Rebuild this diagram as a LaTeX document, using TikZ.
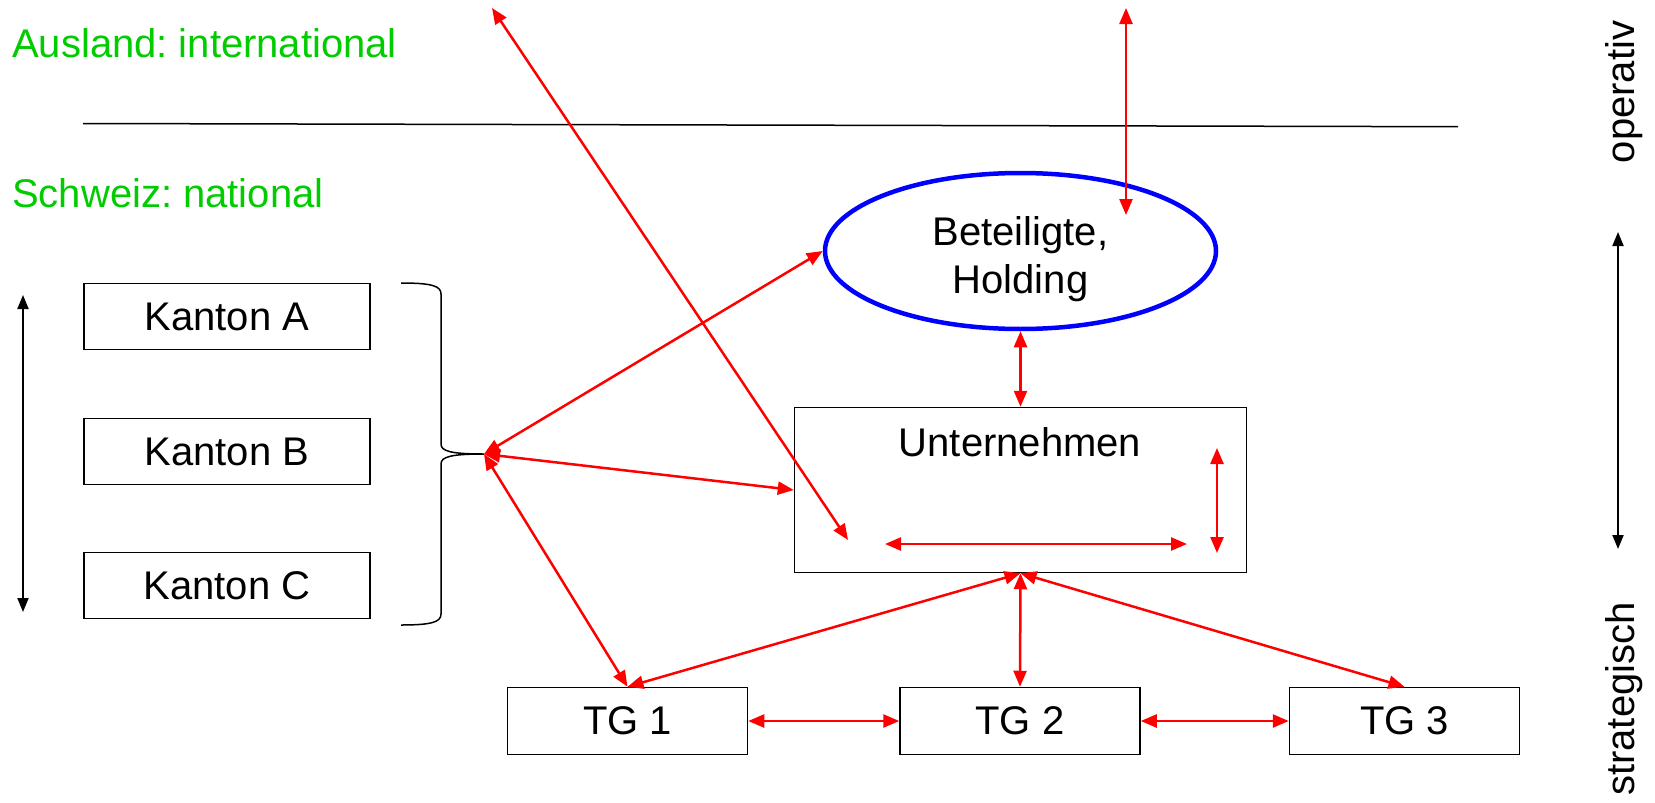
\documentclass[tikz,border=0pt]{standalone}
\usepackage{fontspec}
\setmainfont{Liberation Sans}
\usetikzlibrary{shapes.geometric}
\usetikzlibrary{arrows.meta}
\frenchspacing

\begin{document}
\begin{tikzpicture}[x=1pt, y=-1pt,
  box/.style={draw, line width = 1.5pt, inner sep=0pt, font=\fontsize{40}{48}\selectfont},
  txt/.style={inner sep=0pt, font=\fontsize{40}{48}\selectfont},
  redarr/.style={line width = 2.5pt, color=red, {Triangle[length=16pt,width=13pt]}-{Triangle[length=16pt,width=13pt]}},
  blackarr/.style={line width = 2pt, {Triangle[length=14pt,width=11pt]}-{Triangle[length=14pt,width=11pt]}}]
\useasboundingbox (0,0) rectangle (1655,803);

\node[txt, anchor=base west, text=green!80!black] (ausland) at (12,57) {Ausland: international};
\node[txt, anchor=base west, text=green!80!black] (schweiz) at (12,207) {Schweiz: national};
\draw[line width = 1.5pt] (83,123.5) -- (1458,126.7);

\node[txt, rotate=90, anchor=base] (operativ) at (1634,92) {operativ};
\node[txt, rotate=90, anchor=base] (strategisch) at (1634,699) {strategisch};
\coordinate (rtop) at (1618,232);
\coordinate (rbot) at (1618,549);
\draw[blackarr] (rtop) -- (rbot);
\coordinate (ltop) at (23,295);
\coordinate (lbot) at (23,612);
\draw[blackarr] (ltop) -- (lbot);

\node[box, minimum width=286pt, minimum height=66pt] (kta) at (227,316.5) {Kanton A};
\node[box, minimum width=286pt, minimum height=66pt] (ktb) at (227,451.5) {Kanton B};
\node[box, minimum width=286pt, minimum height=66pt] (ktc) at (227,585.5) {Kanton C};

\coordinate (bt) at (484,454);
\draw[line width = 1.5pt] (401,283) .. controls (432,283) and (441,286) .. (441,294) -- (441,444)
  .. controls (441,451) and (450,454) .. (bt)
  .. controls (450,454) and (441,457) .. (441,464) -- (441,614)
  .. controls (441,622) and (432,625) .. (401,625);

\node[ellipse, draw=blue, line width = 4.5pt, minimum width=391pt, minimum height=156pt, inner sep=0pt] (bet) at (1020.5,251) {};
\node[txt, align=center] (betlabel) at (1020.5,259) {Beteiligte,\\Holding};

\node[box, minimum width=452pt, minimum height=165pt] (unt) at (1020.5,490) {};
\node[txt] (untlabel) at (1020,442) {Unternehmen};

\node[box, minimum width=240pt, minimum height=67pt] (tg1) at (627.5,721) {TG 1};
\node[box, minimum width=240pt, minimum height=67pt] (tg2) at (1020,721) {TG 2};
\node[box, minimum width=230pt, minimum height=67pt] (tg3) at (1404.5,721) {TG 3};

\coordinate (dtop) at (492,8);
\coordinate (dbot) at (848,540);
\coordinate (vtop) at (1126,8);
\coordinate (vbot) at (1126,215);
\coordinate (hl) at (885,544);
\coordinate (hr) at (1187,544);
\coordinate (ut) at (1217,448);
\coordinate (ub) at (1217,553);

\draw[redarr] (dtop) -- (dbot);
\draw[redarr] (vtop) -- (vbot);
\draw[redarr] (hl) -- (hr);
\draw[redarr] (ut) -- (ub);
\draw[redarr] (bt) -- (bet.west);
\draw[redarr] (bt) -- (unt.west);
\draw[redarr] (bt) -- (tg1.north);
\draw[redarr] (bet.south) -- (unt.north);
\draw[redarr] (unt.south) -- (tg1.north);
\draw[redarr] (unt.south) -- (tg2.north);
\draw[redarr] (unt.south) -- (tg3.north);
\draw[redarr] (tg1.east) -- (tg2.west);
\draw[redarr] (tg2.east) -- (tg3.west);
\end{tikzpicture}
\end{document}
